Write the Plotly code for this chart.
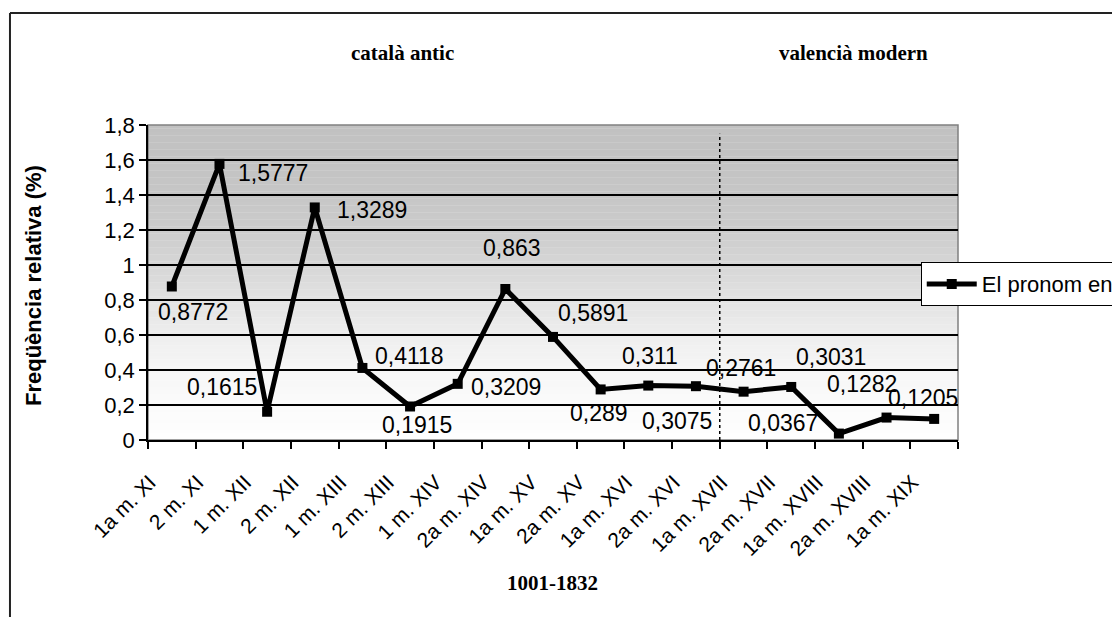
import plotly.graph_objects as go

# ---------------- data ----------------
categories = ["1a m. XI", "2 m. XI", "1 m. XII", "2 m. XII", "1 m. XIII", "2 m. XIII",
              "1 m. XIV", "2a m. XIV", "1a m. XV", "2a m. XV", "1a m. XVI", "2a m. XVI",
              "1a m. XVII", "2a m. XVII", "1a m. XVIII", "2a m. XVIII", "1a m. XIX"]
values = [0.8772, 1.5777, 0.1615, 1.3289, 0.4118, 0.1915, 0.3209, 0.863, 0.5891,
          0.289, 0.311, 0.3075, 0.2761, 0.3031, 0.0367, 0.1282, 0.1205]
series_name = "El pronom en"
period_labels = ["català antic", "valencià modern"]
x_title = "1001-1832"
y_title = "Freqüència relativa (%)"
y_ticks = [0, 0.2, 0.4, 0.6, 0.8, 1.0, 1.2, 1.4, 1.6, 1.8]

# label offsets in pixels (dx right, dy up) -- styling only
label_offsets = [(21, -26), (54, -9), (-45, 25), (57, -3), (47, 12), (7, -19), (48, -3),
                 (7, 41), (40, 24), (-2, -24), (2, 30), (-19, -35), (-3, 24), (40, 30),
                 (-56, 11), (-25, 34), (-11, 21)]

SANS = "Liberation Sans, Arial, sans-serif"
SERIF = "Liberation Serif, Times New Roman, serif"

fig = go.Figure()
fig.add_trace(go.Scatter(
    x=categories, y=values, mode="lines+markers", name=series_name,
    line=dict(color="black", width=5),
    marker=dict(symbol="square", size=10, color="black"),
    showlegend=True,
))

shapes = []
# gradient background (grey at top to white at bottom)
stops = [(0.0, 254), (0.2, 251), (0.4, 246), (0.6, 238), (0.8, 226), (1.0, 214),
         (1.2, 204), (1.4, 198), (1.6, 195), (1.8, 193)]

def grey_at(v):
    for (a, ga), (b, gb) in zip(stops[:-1], stops[1:]):
        if a <= v <= b:
            t = (v - a) / (b - a)
            return int(round(ga + (gb - ga) * t))
    return stops[-1][1]

n = 90
for i in range(n):
    y0 = 1.8 * i / n
    y1 = 1.8 * (i + 1) / n
    g = grey_at((y0 + y1) / 2)
    shapes.append(dict(type="rect", xref="paper", yref="y", x0=0, x1=1, y0=y0, y1=y1 + 0.001,
                       fillcolor=f"rgb({g},{g},{g})", line=dict(width=0), layer="below"))

# grey plot border (top / right)
shapes.append(dict(type="rect", xref="paper", yref="paper", x0=0, x1=1, y0=0, y1=1,
                   line=dict(color="#808080", width=1.5), layer="below"))
# dotted separator between periods
shapes.append(dict(type="line", xref="x", yref="y", x0=11.5, x1=11.5, y0=0, y1=1.75,
                   line=dict(color="black", width=1.5, dash="dot"), layer="above"))
# outer chart frame (top and left edges visible)
shapes.append(dict(type="line", xref="paper", yref="paper", x0=-0.1704, x1=1.25,
                   y0=1.3556, y1=1.3556, line=dict(color="#222222", width=2)))
shapes.append(dict(type="line", xref="paper", yref="paper", x0=-0.1704, x1=-0.1704,
                   y0=1.3556, y1=-0.65, line=dict(color="#222222", width=2)))

annotations = []
for c, v, (dx, dy) in zip(categories, values, label_offsets):
    annotations.append(dict(x=c, y=v, xref="x", yref="y", text=str(v).replace(".", ","),
                            showarrow=False, xshift=dx, yshift=dy,
                            xanchor="center", yanchor="middle",
                            font=dict(family=SANS, size=23, color="black")))

common = dict(xref="paper", yref="paper", showarrow=False, xanchor="center", yanchor="middle")
annotations.append(dict(x=0.3136, y=1.2286, text=f"<b>{period_labels[0]}</b>",
                        font=dict(family=SERIF, size=21, color="black"), **common))
annotations.append(dict(x=0.8716, y=1.2286, text=f"<b>{period_labels[1]}</b>",
                        font=dict(family=SERIF, size=21, color="black"), **common))
annotations.append(dict(x=0.4988, y=-0.454, text=f"<b>{x_title}</b>",
                        font=dict(family=SERIF, size=21, color="black"), **common))
annotations.append(dict(x=-0.1407, y=0.489, text=f"<b>{y_title}</b>", textangle=-90,
                        font=dict(family=SANS, size=22, color="black"), **common))

fig.update_layout(
    width=1112, height=617,
    margin=dict(l=148, r=154, t=125, b=177, autoexpand=False),
    paper_bgcolor="white", plot_bgcolor="white",
    separators=", ",
    font=dict(family=SANS, color="black"),
    shapes=shapes, annotations=annotations,
    showlegend=True,
    legend=dict(x=0.954, y=0.495, xanchor="left", yanchor="middle",
                bgcolor="white", bordercolor="black", borderwidth=1,
                font=dict(family=SANS, size=22, color="black"),
                itemwidth=50, tracegroupgap=0),
)
fig.update_xaxes(
    type="category", range=[-0.5, 16.5], tickson="boundaries",
    ticks="outside", ticklen=7, tickwidth=1.5, tickcolor="black",
    showline=True, linecolor="black", linewidth=1.5,
    showgrid=False, zeroline=False, tickangle=-45,
    ticklabelstandoff=20, ticklabelshift=-22,
    tickfont=dict(family=SANS, size=21, color="black"),
)
fig.update_yaxes(
    range=[0, 1.8], tickvals=y_ticks,
    ticks="outside", ticklen=7, tickwidth=1.5, tickcolor="black",
    showline=True, linecolor="black", linewidth=1.5,
    showgrid=True, gridcolor="black", gridwidth=1.5, zeroline=False,
    tickfont=dict(family=SANS, size=22, color="black"),
)

fig.write_html("out.html")
